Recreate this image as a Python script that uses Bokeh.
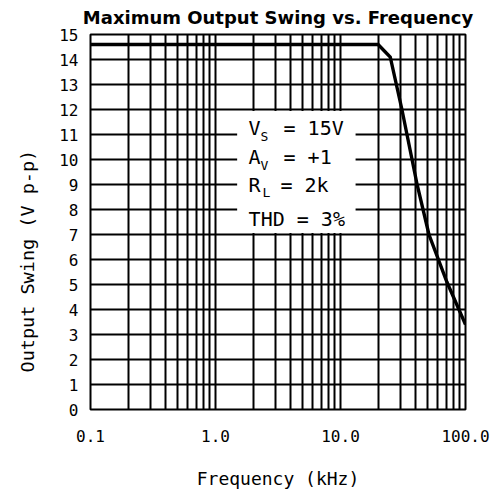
from bokeh.plotting import figure
from bokeh.models import Range1d, FixedTicker, CustomJSTickFormatter, Label, ColumnDataSource, Title
from bokeh.embed import file_html
from bokeh.resources import INLINE

# ---- data ----
freq_khz = [0.1, 20, 25, 31, 41, 51, 71, 100]
swing_vpp = [14.6, 14.6, 14.1, 12.0, 9.0, 7.0, 5.1, 3.4]
x_major = [0.1, 1, 10, 100]
x_minor = [0.2, 0.3, 0.4, 0.5, 0.6, 0.7, 0.8, 0.9,
           2, 3, 4, 5, 6, 7, 8, 9,
           20, 30, 40, 50, 60, 70, 80, 90]
y_ticks = list(range(0, 16))

MONO = "DejaVu Sans Mono"

p = figure(width=490, height=500, x_axis_type="log",
           x_range=Range1d(0.1, 100), y_range=Range1d(0, 15),
           output_backend="svg", toolbar_location=None,
           min_border_left=90, min_border_right=25,
           min_border_top=34, min_border_bottom=91)
p.background_fill_color = "white"
p.border_fill_color = "white"
p.outline_line_color = "black"
p.outline_line_width = 2

p.title.text = "Maximum Output Swing vs. Frequency"
p.title.align = "center"
p.title.vertical_align = "top"
p.title.standoff = 10
p.title.text_font = "DejaVu Sans"
p.title.text_font_style = "bold"
p.title.text_font_size = "18px"
p.title.text_color = "black"

ylab = Title(text="Output Swing (V p-p)", align="left", offset=37,
             vertical_align="top", standoff=33,
             text_font=MONO, text_font_size="18.5px", text_font_style="normal",
             text_color="black")
p.add_layout(ylab, "left")

p.xaxis.ticker = FixedTicker(ticks=x_major, minor_ticks=x_minor)
p.yaxis.ticker = FixedTicker(ticks=y_ticks)
p.xaxis.formatter = CustomJSTickFormatter(code="return tick.toFixed(1);")

for ax in (p.xaxis, p.yaxis):
    ax.axis_line_color = None
    ax.major_tick_in = 0
    ax.major_tick_out = 0
    ax.minor_tick_in = 0
    ax.minor_tick_out = 0
    ax.major_label_text_font = MONO
    ax.major_label_text_font_size = "16px"
    ax.major_label_text_color = "black"
p.xaxis.major_label_standoff = 20
p.yaxis.major_label_standoff = 12

p.xaxis.axis_label = "Frequency (kHz)"
p.xaxis.axis_label_text_font = MONO
p.xaxis.axis_label_text_font_size = "18px"
p.xaxis.axis_label_text_font_style = "normal"
p.xaxis.axis_label_text_color = "black"
p.xaxis.axis_label_standoff = 23

for g in (p.xgrid, p.ygrid):
    g.grid_line_color = "black"
    g.grid_line_width = 2
    g.grid_line_alpha = 1
p.xgrid.minor_grid_line_color = "black"
p.xgrid.minor_grid_line_width = 2

# white box for the condition legend (covers grid)
p.quad(left=[1.49], right=[13.2], bottom=[7.06], top=[11.94],
       fill_color="white", line_color=None)

# curve
src = ColumnDataSource(dict(f=freq_khz, v=swing_vpp))
p.line("f", "v", source=src, line_color="black", line_width=3.4, line_join="miter")

def txt(x, y, s, size="20px"):
    p.add_layout(Label(x=x, y=y, text=s, text_font=MONO, text_font_size=size,
                       text_align="left", text_baseline="middle", text_color="black"))

txt(1.84, 11.26, "V")
txt(2.29, 10.92, "S", "13px")
txt(3.50, 11.26, "= 15V")
txt(1.84, 10.12, "A")
txt(2.29, 9.76, "V", "13px")
txt(3.50, 10.12, "= +1")
txt(1.84, 8.98, "R")
txt(2.38, 8.68, "L", "13px")
txt(3.31, 8.98, "= 2k")
txt(1.84, 7.64, "THD = 3%")

open("out.html", "w").write(file_html(p, INLINE))
